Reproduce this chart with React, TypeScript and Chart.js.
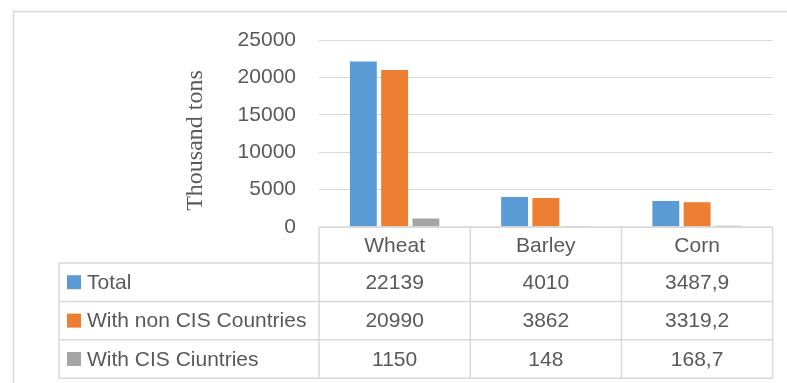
import React, { useEffect, useRef } from "react";
import { Chart, registerables } from "chart.js";

Chart.register(...registerables);

const categories = ["Wheat", "Barley", "Corn"];
const seriesNames = ["Total", "With non CIS Countries", "With CIS Ciuntries"];
const totalValues = [22139, 4010, 3487.9];
const nonCisValues = [20990, 3862, 3319.2];
const cisValues = [1150, 148, 168.7];
const totalLabels = ["22139", "4010", "3487,9"];
const nonCisLabels = ["20990", "3862", "3319,2"];
const cisLabels = ["1150", "148", "168,7"];
const yMin = 0;
const yMax = 25000;
const yStep = 5000;
const yTitle = "Thousand tons";
const colors = ["#5B9BD5", "#ED7D31", "#A5A5A5"];

const TEXT = "#595959";
const LINE = "#d9d9d9";
const SANS = "'Liberation Sans', Arial, sans-serif";

const tablePlugin = {
  id: "dataTable",
  afterDraw(chart: any) {
    const ctx = chart.ctx as CanvasRenderingContext2D;
    const xs = chart.scales.x;
    const area = chart.chartArea;
    const n = categories.length;
    const colW = (xs.right - xs.left) / n;
    const top = area.bottom;
    const headerBottom = top + 36;
    const rowH = 38.4;
    const legendLeft = 59;
    const rows = [totalLabels, nonCisLabels, cisLabels];
    const tableBottom = headerBottom + rowH * rows.length;

    ctx.save();
    // outer chart border
    ctx.strokeStyle = LINE;
    ctx.lineWidth = 1.5;
    ctx.beginPath();
    ctx.moveTo(13.5, 400);
    ctx.lineTo(13.5, 11.5);
    ctx.lineTo(800, 11.5);
    ctx.stroke();

    // table lines
    ctx.lineWidth = 1.5;
    ctx.beginPath();
    ctx.moveTo(xs.left, top);
    ctx.lineTo(xs.right, top);
    for (let r = 0; r <= rows.length; r++) {
      const y = headerBottom + r * rowH;
      ctx.moveTo(legendLeft, y);
      ctx.lineTo(xs.right, y);
    }
    ctx.moveTo(legendLeft, headerBottom);
    ctx.lineTo(legendLeft, tableBottom);
    for (let i = 0; i <= n; i++) {
      const x = xs.left + i * colW;
      ctx.moveTo(x, top);
      ctx.lineTo(x, tableBottom);
    }
    ctx.stroke();

    ctx.font = `21px ${SANS}`;
    ctx.fillStyle = TEXT;
    ctx.textBaseline = "middle";
    ctx.textAlign = "center";
    categories.forEach((c, i) => {
      ctx.fillText(c, xs.getPixelForValue(i), (top + headerBottom) / 2 + 1);
    });
    rows.forEach((vals, r) => {
      const cy = headerBottom + r * rowH + rowH / 2 + 1;
      ctx.fillStyle = colors[r];
      ctx.fillRect(legendLeft + 8, cy - 8, 14, 14);
      ctx.fillStyle = TEXT;
      ctx.textAlign = "left";
      ctx.fillText(seriesNames[r], legendLeft + 28, cy);
      ctx.textAlign = "center";
      vals.forEach((v, i) => {
        ctx.fillText(v, xs.getPixelForValue(i), cy);
      });
    });

    // y axis title
    ctx.font = `24px 'Liberation Serif', 'Times New Roman', serif`;
    ctx.fillStyle = TEXT;
    ctx.textAlign = "center";
    ctx.textBaseline = "alphabetic";
    ctx.translate(202, (area.top + area.bottom) / 2 + 7);
    ctx.rotate(-Math.PI / 2);
    ctx.fillText(yTitle, 0, 0);
    ctx.restore();
  },
};

export default function App() {
  const ref = useRef<HTMLCanvasElement>(null);
  useEffect(() => {
    if (!ref.current) return;
    const chart = new Chart(ref.current, {
      type: "bar",
      data: {
        labels: categories,
        datasets: [
          { label: seriesNames[0], data: totalValues, backgroundColor: colors[0] },
          { label: seriesNames[1], data: nonCisValues, backgroundColor: colors[1] },
          { label: seriesNames[2], data: cisValues, backgroundColor: colors[2] },
        ],
      },
      options: {
        responsive: false,
        animation: false,
        layout: { padding: { top: 40, bottom: 156, left: 0, right: 14.3 } },
        datasets: { bar: { categoryPercentage: 0.62, barPercentage: 0.86 } },
        plugins: { legend: { display: false }, tooltip: { enabled: false } },
        scales: {
          x: { display: false },
          y: {
            min: yMin,
            max: yMax,
            afterFit: (s: any) => {
              s.width = 319;
            },
            ticks: {
              stepSize: yStep,
              padding: 23,
              color: TEXT,
              font: { family: SANS, size: 21 },
              callback: (v: any) => String(v),
            },
            grid: { color: LINE, lineWidth: 1, drawTicks: false },
            border: { display: false },
          },
        },
      },
      plugins: [tablePlugin],
    });
    return () => chart.destroy();
  }, []);
  return (
    <div style={{ position: "absolute", left: 0, top: 0, width: 787, height: 383, background: "#fff" }}>
      <canvas ref={ref} width={787} height={383} />
    </div>
  );
}
